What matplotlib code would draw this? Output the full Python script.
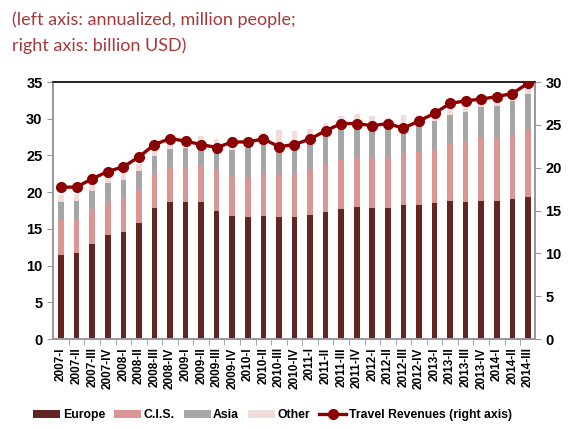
import matplotlib.pyplot as plt
import numpy as np

# Quarterly inbound visitors (million, annualized) and travel revenues (bn USD)
quarters = ["2007-I", "2007-II", "2007-III", "2007-IV",
            "2008-I", "2008-II", "2008-III", "2008-IV",
            "2009-I", "2009-II", "2009-III", "2009-IV",
            "2010-I", "2010-II", "2010-III", "2010-IV",
            "2011-I", "2011-II", "2011-III", "2011-IV",
            "2012-I", "2012-II", "2012-III", "2012-IV",
            "2013-I", "2013-II", "2013-III", "2013-IV",
            "2014-I", "2014-II", "2014-III"]

europe = [11.45, 11.7, 13.0, 14.1, 14.6, 15.8, 17.9, 18.7, 18.7, 18.65, 17.5,
          16.75, 16.65, 16.8, 16.6, 16.65, 16.85, 17.35, 17.75, 18.0, 17.9,
          17.9, 18.3, 18.3, 18.5, 18.8, 18.7, 18.8, 18.8, 19.0, 19.4]
cis = [4.7, 4.65, 4.7, 4.65, 4.65, 4.65, 4.65, 4.7, 4.7, 5.05, 5.45,
       5.5, 5.4, 5.65, 5.9, 6.0, 6.15, 6.45, 6.7, 6.75, 6.7,
       6.7, 7.0, 7.2, 7.35, 7.85, 8.3, 8.65, 8.65, 8.8, 9.0]
asia = [2.5, 2.5, 2.5, 2.45, 2.45, 2.45, 2.4, 2.5, 2.65, 2.4, 2.5,
        3.5, 3.9, 4.15, 3.7, 4.25, 3.7, 4.0, 4.35, 4.05, 3.8,
        4.2, 3.2, 3.65, 3.85, 3.85, 3.95, 4.1, 4.3, 4.65, 5.0]
other = [0.9, 0.9, 0.9, 0.9, 0.95, 0.9, 0.9, 1.0, 0.6, 1.5, 1.85,
         0.4, 0.35, 1.4, 2.2, 1.45, 1.85, 1.65, 1.55, 1.8, 1.95,
         1.25, 2.05, 1.35, 0.35, 1.1, 1.15, 0.65, 0.55, 0.55, 0.9]
revenues = [17.7, 17.75, 18.7, 19.55, 20.1, 21.25, 22.7, 23.4, 23.1, 22.7, 22.35,
            23.0, 23.0, 23.35, 22.45, 22.7, 23.35, 24.3, 25.15, 25.15, 24.9,
            25.15, 24.6, 25.45, 26.35, 27.5, 27.8, 28.0, 28.3, 28.65, 29.85]

c_europe = "#632523"
c_cis = "#D99694"
c_asia = "#A6A6A6"
c_other = "#F2DCDB"
c_line = "#8B0000"
title_col = "#A5393B"

plt.rcParams["font.family"] = ["Liberation Sans", "DejaVu Sans"]

fig = plt.figure(figsize=(5.68, 4.30), dpi=100)
ax = fig.add_axes([0.0933, 0.2116, 0.8487, 0.5977])
ax2 = ax.twinx()

x = np.arange(len(quarters))
w = 0.36
b1 = np.array(europe)
b2 = b1 + np.array(cis)
b3 = b2 + np.array(asia)
ax.bar(x, europe, w, color=c_europe, label="Europe", zorder=2)
ax.bar(x, cis, w, bottom=b1, color=c_cis, label="C.I.S.", zorder=2)
ax.bar(x, asia, w, bottom=b2, color=c_asia, label="Asia", zorder=2)
ax.bar(x, other, w, bottom=b3, color=c_other, label="Other", zorder=2)

ax2.plot(x, revenues, color=c_line, lw=2.4, marker="o", ms=7,
         label="Travel Revenues (right axis)", zorder=3)

ax.set_xlim(-0.52, len(quarters) - 0.54)
ax.set_ylim(0, 35)
ax2.set_ylim(0, 30)
ax.set_yticks(np.arange(0, 36, 5))
ax2.set_yticks(np.arange(0, 31, 5))

ax.set_xticks(x)
ax.set_xticklabels(quarters, rotation=90, fontsize=8.5, fontweight="bold")
ax.set_xticks(x[:-1] + 0.5, minor=True)
ax.tick_params(axis="x", which="major", length=0, pad=6)
ax.tick_params(axis="x", which="minor", length=4, color="#999999")
ax.tick_params(axis="y", length=4, color="#999999", labelsize=10.5)
ax2.tick_params(axis="y", length=4, color="#999999", labelsize=10.5)
for lbl in ax.get_yticklabels() + ax2.get_yticklabels():
    lbl.set_fontweight("bold")

for a in (ax, ax2):
    a.spines["left"].set_color("#999999")
    a.spines["right"].set_color("#999999")
    a.spines["bottom"].set_color("#999999")
    a.spines["top"].set_color("#222222")
    for s in a.spines.values():
        s.set_linewidth(1.2)
ax.set_zorder(ax2.get_zorder() - 1)
ax.patch.set_visible(True)
ax2.patch.set_visible(False)

fig.text(0.022, 0.955, "(left axis: annualized, million people;",
         color=title_col, fontsize=13, family=["Lato", "DejaVu Sans"],
         va="center")
fig.text(0.022, 0.893, "right axis: billion USD)",
         color=title_col, fontsize=13, family=["Lato", "DejaVu Sans"],
         va="center")

h1, l1 = ax.get_legend_handles_labels()
h2, l2 = ax2.get_legend_handles_labels()
fig.legend(h1 + h2, l1 + l2, loc="lower center", bbox_to_anchor=(0.48, -0.005),
           ncol=5, frameon=False, handlelength=2.2, handletextpad=0.2,
           columnspacing=0.75, prop={"weight": "bold", "size": 8.8})

fig.savefig("out.png", dpi=100)
